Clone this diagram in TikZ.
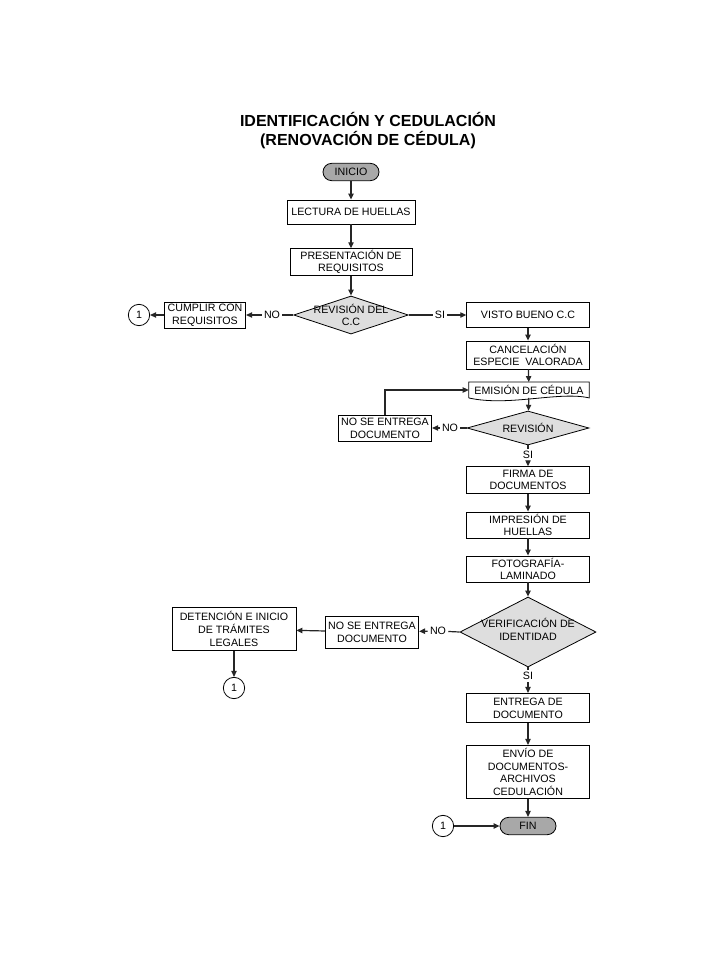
\documentclass[tikz,border=0pt]{standalone}
\usepackage{fontspec}
\setmainfont{Liberation Sans}
\usetikzlibrary{shapes.geometric, arrows.meta, calc}
\definecolor{grisdecision}{HTML}{DEDEDE}
\definecolor{gristerminal}{HTML}{A8A8A8}
\tikzset{>={Triangle[length=4.5pt,width=4pt]}}
\tikzset{
  caja/.style={draw, line width=0.6pt, align=center, inner sep=1pt, minimum width=92pt},
  decision/.style={draw, diamond, fill=grisdecision, inner sep=0pt, line width=0.6pt},
  terminal/.style={draw, line width=0.6pt, rounded corners=6.5pt, fill=gristerminal,
    minimum width=42pt, minimum height=13pt, inner sep=0pt},
  conector/.style={draw, circle, minimum size=16pt, inner sep=0pt, line width=0.6pt},
  etiqueta/.style={inner sep=1.5pt},
  linea/.style={line width=0.9pt, draw=black!85},
  flecha/.style={linea, ->}
}

\begin{document}
\begin{tikzpicture}[x=0.75pt, y=-0.75pt, font=\fontsize{8}{9.5}\selectfont]
\useasboundingbox (0,0) rectangle (720,960);

% title
\node[font=\bfseries\fontsize{12}{14.2}\selectfont, align=center] (titulo) at (368,131)
  {IDENTIFICACIÓN Y CEDULACIÓN\\(RENOVACIÓN DE CÉDULA)};

% left column
\node[terminal] (inicio) at (351,172) {INICIO};
\node[caja, minimum width=96pt, minimum height=18pt] (lectura) at (351,212) {LECTURA DE HUELLAS};
\node[caja, minimum width=91.5pt, minimum height=20pt] (presentacion) at (351,262) {PRESENTACIÓN DE\\REQUISITOS};
\node[decision, minimum width=86pt, minimum height=28.5pt,
  label={[align=center]center:REVISIÓN DEL\\C.C}] (revcc) at (351,315) {};
\node[caja, minimum width=61pt, minimum height=19.5pt] (cumplir) at (205,315) {CUMPLIR CON\\REQUISITOS};
\node[conector] (c1a) at (139,315) {1};

% right column
\node[caja, minimum height=19pt] (visto) at (528,315) {VISTO BUENO C.C};
\node[caja, minimum height=21pt] (cancel) at (528,355) {CANCELACIÓN\\ESPECIE \ VALORADA};
\node[minimum width=90pt, minimum height=11.5pt, inner sep=0pt] (emision) at (529,390) {EMISIÓN DE CÉDULA};
\node[decision, minimum width=91.5pt, minimum height=25.5pt,
  label={center:REVISIÓN}] (revision) at (528,428) {};
\node[caja, minimum width=70pt, minimum height=19.5pt] (noent1) at (385,428) {NO SE ENTREGA\\DOCUMENTO};
\node[caja, minimum height=20pt] (firma) at (528,480) {FIRMA DE\\DOCUMENTOS};
\node[caja, minimum height=19.5pt] (impresion) at (528,525) {IMPRESIÓN DE\\HUELLAS};
\node[caja, minimum height=19.5pt] (foto) at (528,569) {FOTOGRAFÍA-\\LAMINADO};
\node[decision, minimum width=102pt, minimum height=52.5pt,
  label={[align=center, yshift=2pt]center:VERIFICACIÓN DE\\IDENTIDAD}] (verif) at (528,632) {};
\node[caja, minimum width=70pt, minimum height=24pt] (noent2) at (372,632) {NO SE ENTREGA\\DOCUMENTO};
\node[caja, minimum width=93pt, minimum height=32pt] (detencion) at (234,629) {DETENCIÓN E INICIO\\DE TRÁMITES\\LEGALES};
\node[conector] (c1b) at (234,688) {1};
\node[caja, minimum height=22pt] (entrega) at (528,708) {ENTREGA DE\\DOCUMENTO};
\node[caja, minimum height=40pt] (envio) at (528,772) {ENVÍO DE\\DOCUMENTOS-\\ARCHIVOS\\CEDULACIÓN};
\node[terminal] (fin) at (528,826) {FIN};
\node[conector] (c1c) at (443,826) {1};

% document shape
\draw[line width=0.6pt] (emision.south west) -- (emision.north west) -- (emision.north east)
  -- (emision.south east) .. controls ($(emision.south east)+(-30,-7)$) and ($(emision.south west)+(40,9)$) .. (emision.south west);

% labels on the branches
\node[etiqueta] (no1) at (272,315) {NO};
\node[etiqueta] (si1) at (440,315) {SI};
\node[etiqueta] (no2) at (450,428) {NO};
\node[etiqueta] (si2) at (528,455) {SI};
\node[etiqueta] (no3) at (438,631) {NO};
\node[etiqueta] (si3) at (528,676) {SI};

% straight arrows
\foreach \desde/\hasta in {inicio/lectura, lectura/presentacion, presentacion/revcc,
  visto/cancel, cancel/emision, emision/revision, firma/impresion, impresion/foto,
  foto/verif, entrega/envio, envio/fin, noent2/detencion, detencion/c1b, cumplir/c1a, c1c/fin}
  \draw[flecha] (\desde) -- (\hasta);

% branches
\foreach \rama/\etq/\destino in {revcc.west/no1/cumplir, revcc.east/si1/visto,
  revision.west/no2/noent1, revision.south/si2/firma, verif.west/no3/noent2, verif.south/si3/entrega}
{
  \draw[linea] (\rama) -- (\etq);
  \draw[flecha] (\etq) -- (\destino);
}

% back to emission
\draw[flecha] (noent1.north) |- (emision.west);
\end{tikzpicture}
\end{document}
